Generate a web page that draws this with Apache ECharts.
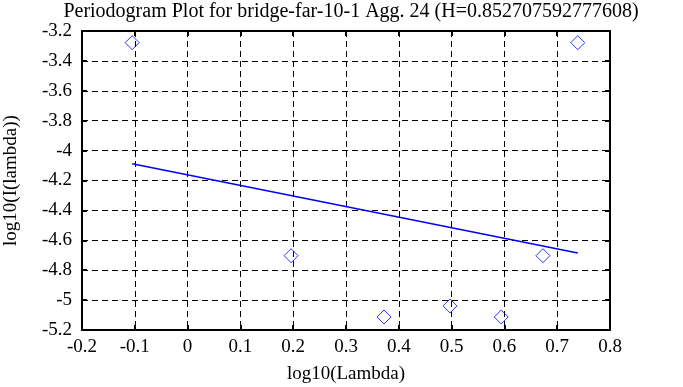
<!DOCTYPE html>
<html>
<head>
<meta charset="utf-8">
<script src="https://cdn.jsdelivr.net/npm/echarts@6/dist/echarts.min.js"></script>
<style>html,body{margin:0;padding:0;background:#fff;}#c{width:683px;height:387px;}</style>
</head>
<body>
<div id="c"></div>
<script>
// Periodogram points (log10 Lambda, log10 I(lambda))
const pointX = [-0.105, 0.196, 0.372, 0.497, 0.594, 0.673, 0.739];
const pointY = [-3.278, -4.703, -5.113, -5.039, -5.113, -4.703, -3.278];
// Fitted regression line endpoints
const fitX = [-0.105, 0.739];
const fitY = [-4.088, -4.685];
const titleText = 'Periodogram Plot for bridge-far-10-1 Agg. 24 (H=0.852707592777608)';
const xName = 'log10(Lambda)';
const yName = 'log10(I(lambda))';

const font = 'Liberation Serif';
const chart = echarts.init(document.getElementById('c'), null, {renderer: 'canvas'});
const axisCommon = {
  axisLine: {show: true, onZero: false, lineStyle: {color: '#000', width: 2}},
  axisTick: {show: true, inside: true, length: 5, lineStyle: {color: '#000', width: 2}},
};
chart.setOption({
  animation: false,
  backgroundColor: '#fff',
  title: {
    text: titleText, left: 346, top: -3, textAlign: 'center',
    textStyle: {fontFamily: font, fontSize: 20, fontWeight: 'normal', color: '#000'}
  },
  grid: {left: 82, right: 73, top: 31, bottom: 57, containLabel: false, outerBoundsMode: 'none'},
  xAxis: [{
    type: 'value', min: -0.2, max: 0.8, interval: 0.1, position: 'bottom',
    name: xName, nameLocation: 'middle', nameGap: 35,
    nameTextStyle: {fontFamily: font, fontSize: 19, color: '#000'},
    axisLabel: {fontFamily: font, fontSize: 19, color: '#000', margin: 8},
    splitLine: {show: true, lineStyle: {color: '#000', width: 1, type: [6, 4]}},
    ...axisCommon
  }, {
    type: 'value', min: -0.2, max: 0.8, interval: 0.1, position: 'top',
    axisLabel: {show: false}, splitLine: {show: false},
    ...axisCommon
  }],
  yAxis: [{
    type: 'value', min: -5.2, max: -3.2, interval: 0.2, position: 'left',
    name: yName, nameLocation: 'middle', nameGap: 61,
    nameTextStyle: {fontFamily: font, fontSize: 19, color: '#000'},
    axisLabel: {fontFamily: font, fontSize: 19, color: '#000', margin: 10, padding: [5, 0, 0, 0]},
    splitLine: {show: true, lineStyle: {color: '#000', width: 1, type: [6, 4]}},
    ...axisCommon
  }, {
    type: 'value', min: -5.2, max: -3.2, interval: 0.2, position: 'right',
    axisLabel: {show: false}, splitLine: {show: false},
    ...axisCommon
  }],
  series: [{
    type: 'scatter',
    data: pointX.map((x, i) => [x, pointY[i]]),
    symbol: 'diamond', symbolSize: 14,
    itemStyle: {color: 'rgba(255,255,255,0)', borderColor: '#0000ff', borderWidth: 1},
    z: 3
  }, {
    type: 'line',
    data: fitX.map((x, i) => [x, fitY[i]]),
    showSymbol: false, symbol: 'none',
    lineStyle: {color: '#0000ff', width: 1.5},
    z: 4
  }]
});
</script>
</body>
</html>
